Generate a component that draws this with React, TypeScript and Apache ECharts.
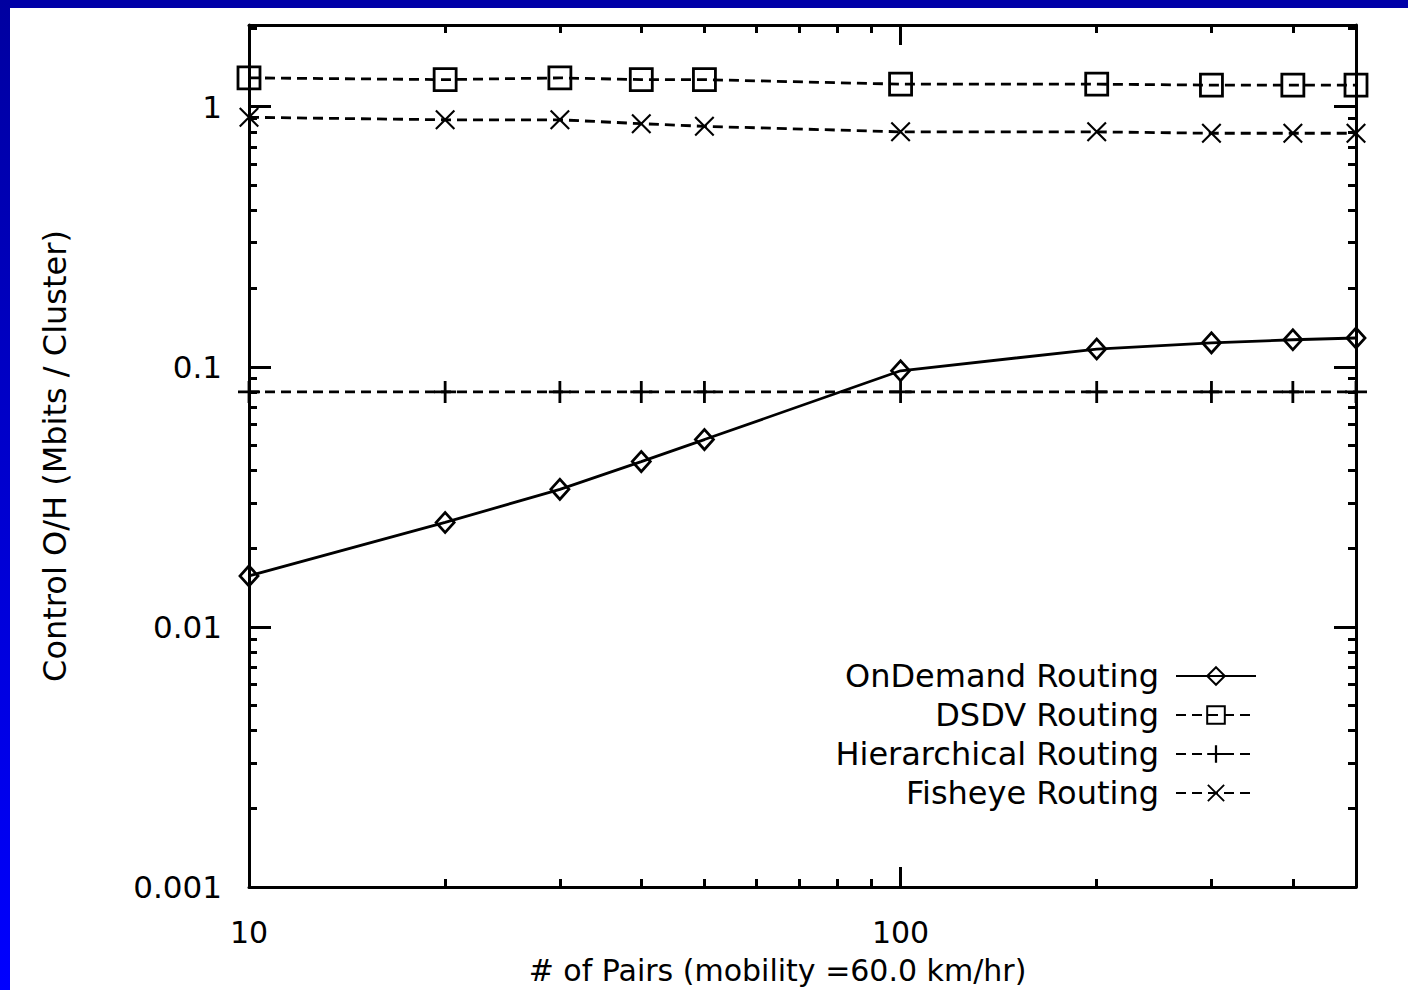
import React, { useEffect, useRef } from "react";
import * as echarts from "echarts";

const pairs = [10, 20, 30, 40, 50, 100, 200, 300, 400, 500];
const onDemand = [0.0157, 0.0252, 0.0338, 0.0432, 0.0525, 0.0965, 0.117, 0.1236, 0.127, 0.129];
const dsdv = [1.29, 1.27, 1.29, 1.27, 1.27, 1.22, 1.22, 1.21, 1.21, 1.21];
const hierarchical = [0.08, 0.08, 0.08, 0.08, 0.08, 0.08, 0.08, 0.08, 0.08, 0.08];
const fisheye = [0.91, 0.89, 0.89, 0.86, 0.84, 0.8, 0.8, 0.79, 0.79, 0.79];

const seriesNames = ["OnDemand Routing", "DSDV Routing", "Hierarchical Routing", "Fisheye Routing"];
const xMajorTicks = [10, 100];
const xMinorTicks = [20, 30, 40, 50, 60, 70, 80, 90, 200, 300, 400];
const yMajorTicks = [0.001, 0.01, 0.1, 1];
const yMinorTicks = [
  0.002, 0.003, 0.004, 0.005, 0.006, 0.007, 0.008, 0.009,
  0.02, 0.03, 0.04, 0.05, 0.06, 0.07, 0.08, 0.09,
  0.2, 0.3, 0.4, 0.5, 0.6, 0.7, 0.8, 0.9, 2,
];
const xTitle = "# of Pairs (mobility =60.0 km/hr)";
const yTitle = "Control O/H (Mbits / Cluster)";

const FONT = "DejaVu Sans";
const PLUS = "path://M0,9.6 H22 V12.4 H0 Z M9.6,0 H12.4 V22 H9.6 Z";
const CROSS = "path://M0,1.5 L1.5,0 L20,18.5 L18.5,20 Z M18.5,0 L20,1.5 L1.5,20 L0,18.5 Z";

export default function App() {
  const ref = useRef<HTMLDivElement>(null);
  useEffect(() => {
    if (!ref.current) return;
    const chart = echarts.init(ref.current, undefined, { renderer: "svg" });
    const black = "#000";
    const xBase = { type: "log", logBase: 10, min: 10, max: 500, gridIndex: 0, splitLine: { show: false } };
    const yBase = { type: "log", logBase: 10, min: 0.001, max: 2.06, gridIndex: 0, splitLine: { show: false } };
    const line3 = { show: true, lineStyle: { color: black, width: 3 } };
    const noLine = { show: false };
    const noLabel = { show: false };
    const mkTick = (vals: number[], len: number) => ({
      show: true, inside: true, length: len, customValues: vals, lineStyle: { color: black, width: 3 },
    });
    const dashed = { color: black, width: 2.8, type: [10, 6] as any };
    const hollow = { color: "rgba(255,255,255,0)", borderColor: black, borderWidth: 2.8 };
    const mk = (arr: number[]) => pairs.map((p, i) => [p, arr[i]]);

    chart.setOption({
      animation: false,
      backgroundColor: "#fff",
      graphic: [
        { type: "rect", shape: { x: 0, y: 0, width: 1408, height: 8 }, style: { fill: "#0000a8" }, z: 100 },
        {
          type: "rect", shape: { x: 0, y: 0, width: 10, height: 990 }, z: 100,
          style: {
            fill: new echarts.graphic.LinearGradient(0, 0, 0, 1, [
              { offset: 0, color: "#0000a0" },
              { offset: 1, color: "#0000ff" },
            ]),
          },
        },
      ],
      grid: { left: 249, top: 25, width: 1107, height: 866, containLabel: false },
      legend: {
        data: seriesNames,
        orient: "vertical",
        align: "right",
        right: 146,
        top: 655,
        itemWidth: 80,
        itemHeight: 22,
        itemGap: 7,
        selectedMode: false,
        textStyle: { fontFamily: FONT, fontSize: 32, color: black, padding: [0, 12, 0, 0] },
      },
      xAxis: [
        {
          ...xBase, position: "bottom", axisLine: line3, axisTick: mkTick(xMajorTicks, 20),
          axisLabel: { customValues: xMajorTicks, formatter: (v: number) => String(Math.round(v)), color: black, fontFamily: FONT, fontSize: 30, margin: 30 },
          name: xTitle, nameLocation: "middle", nameGap: 68,
          nameTextStyle: { fontFamily: FONT, fontSize: 30, color: black, padding: [0, 50, 0, 0] },
        },
        { ...xBase, position: "bottom", axisLine: noLine, axisTick: mkTick(xMinorTicks, 8), axisLabel: noLabel },
        { ...xBase, position: "top", axisLine: line3, axisTick: mkTick([100], 20), axisLabel: noLabel },
        { ...xBase, position: "top", axisLine: noLine, axisTick: mkTick(xMinorTicks, 8), axisLabel: noLabel },
      ],
      yAxis: [
        {
          ...yBase, position: "left", axisLine: line3, axisTick: mkTick(yMajorTicks, 22),
          axisLabel: { customValues: yMajorTicks, formatter: (v: number) => String(v), color: black, fontFamily: FONT, fontSize: 31, margin: 27 },
          name: yTitle, nameLocation: "middle", nameGap: 178,
          nameTextStyle: { fontFamily: FONT, fontSize: 32, color: black },
        },
        { ...yBase, position: "left", axisLine: noLine, axisTick: mkTick(yMinorTicks, 8), axisLabel: noLabel },
        { ...yBase, position: "right", axisLine: line3, axisTick: mkTick(yMajorTicks, 22), axisLabel: noLabel },
        { ...yBase, position: "right", axisLine: noLine, axisTick: mkTick(yMinorTicks, 8), axisLabel: noLabel },
      ],
      series: [
        {
          name: seriesNames[0], type: "line", xAxisIndex: 0, yAxisIndex: 0, clip: false,
          data: mk(onDemand), symbol: "diamond", symbolSize: [18, 20],
          itemStyle: hollow, lineStyle: { color: black, width: 2.8 }, z: 4,
        },
        {
          name: seriesNames[1], type: "line", xAxisIndex: 0, yAxisIndex: 0, clip: false,
          data: mk(dsdv), symbol: "rect", symbolSize: 22,
          itemStyle: hollow, lineStyle: dashed, z: 3,
        },
        {
          name: seriesNames[2], type: "line", xAxisIndex: 0, yAxisIndex: 0, clip: false,
          data: mk(hierarchical), symbol: PLUS, symbolSize: 22,
          itemStyle: { color: black }, lineStyle: dashed, z: 3,
        },
        {
          name: seriesNames[3], type: "line", xAxisIndex: 0, yAxisIndex: 0, clip: false,
          data: mk(fisheye), symbol: CROSS, symbolSize: 20,
          itemStyle: { color: black }, lineStyle: dashed, z: 3,
        },
      ],
    });
    return () => chart.dispose();
  }, []);
  return (
    <div
      ref={ref}
      style={{ position: "absolute", left: 0, top: 0, width: 1408, height: 990, background: "#fff" }}
    />
  );
}
